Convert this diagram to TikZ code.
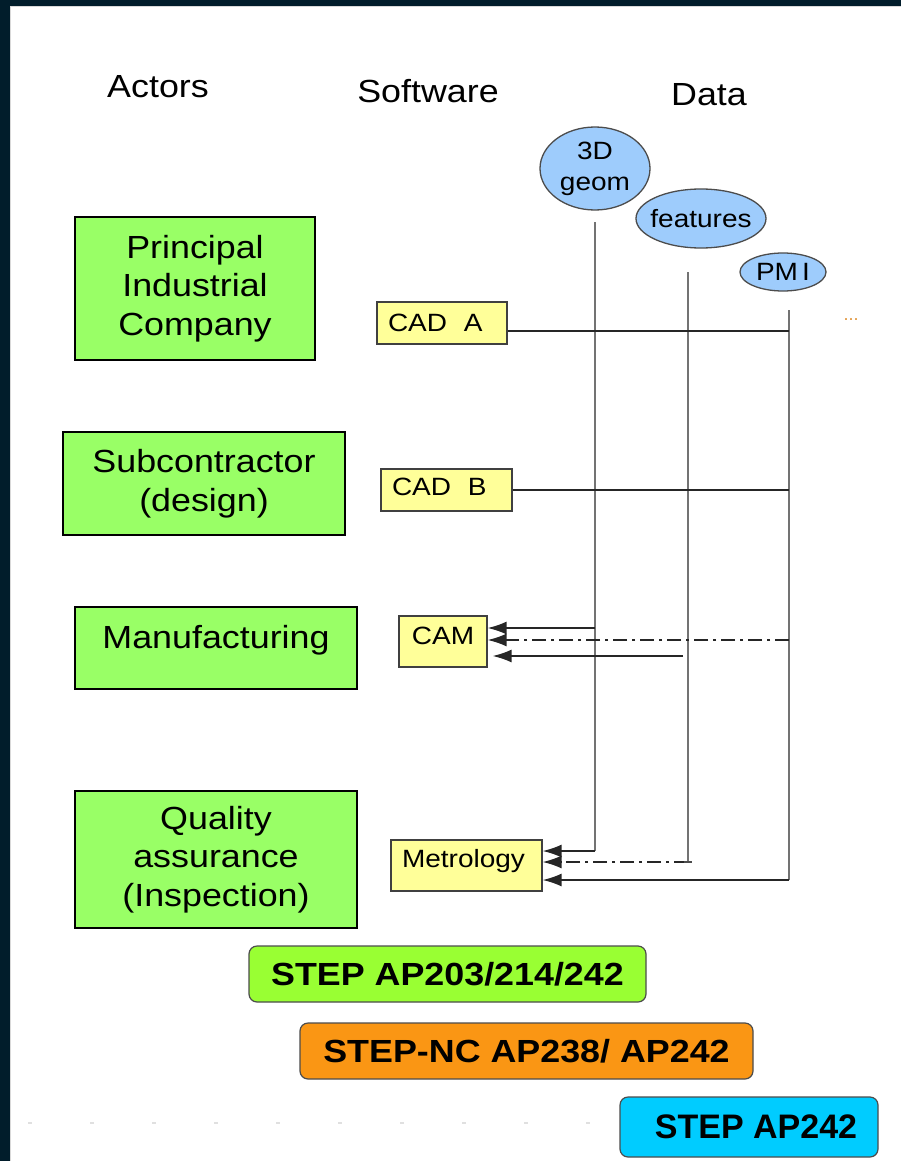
\documentclass[tikz,border=0pt]{standalone}
\usepackage{fontspec}
\setmainfont{Liberation Sans}
\newfontfamily\wide{Liberation Sans}[FakeStretch=1.12]
\usetikzlibrary{shapes.geometric,arrows.meta}
\definecolor{navy}{RGB}{1,29,43}
\definecolor{actgreen}{RGB}{153,255,102}
\definecolor{softyellow}{RGB}{255,255,153}
\definecolor{datablue}{RGB}{158,204,252}
\definecolor{stepgreen}{RGB}{153,255,51}
\definecolor{steporange}{RGB}{250,150,20}
\definecolor{stepcyan}{RGB}{0,204,255}
\definecolor{dots}{RGB}{225,150,60}
\tikzset{
 actor/.style={draw=black, line width=2.6pt, fill=actgreen, align=center, inner sep=0pt,
   font=\wide\fontsize{32}{38.5}\selectfont},
 soft/.style={draw=black!75, line width=1.3pt, fill=softyellow, inner xsep=11pt, inner ysep=0pt,
   font=\wide\fontsize{25}{30}\selectfont},
 data/.style={ellipse, draw=black!70, line width=1.3pt, fill=datablue, inner sep=0pt, align=center,
   font=\wide\fontsize{25}{31}\selectfont},
 std/.style={rounded corners=8pt, draw=black!70, line width=1.2pt, inner sep=0pt,
   font=\wide\bfseries\fontsize{32}{38}\selectfont},
 header/.style={font=\wide\fontsize{32}{38}\selectfont, inner sep=0pt},
 vline/.style={black!55, line width=2.2pt},
 hline/.style={black!85, line width=1.6pt},
 tip/.style={-{Latex[length=19pt,width=13pt]}},
 dashdot/.style={dash pattern=on 14pt off 5pt on 3pt off 5pt}
}
\begin{document}
\begin{tikzpicture}[x=1pt,y=-1pt]
\useasboundingbox (0,0) rectangle (901,1161);
\fill[navy] (0,0) rectangle (901,1161);
\fill[white] (10,6) rectangle (901,1161);
\draw[black!15, line width=1pt] (10.5,1161) -- (10.5,6.5) -- (901,6.5);
\draw[black!12, line width=1.2pt, dash pattern=on 4pt off 58pt] (28,1123) -- (615,1123);

% headers
\node[header] (hact) at (158,87) {Actors};
\node[header] (hsoft) at (428,91) {Software};
\node[header] (hdata) at (709,95) {Data};

% actors
\node[actor, minimum width=240, minimum height=143] (pic) at (195,288.5) {Principal\\Industrial\\Company};
\node[actor, minimum width=282, minimum height=103] (sub) at (204,483.5) {Subcontractor\\(design)};
\node[actor, minimum width=282, minimum height=82, text height=26pt, text depth=26pt] (man) at (216,648) {Manufacturing};
\node[actor, minimum width=282, minimum height=137] (qa) at (216,859.5) {Quality\\assurance\\(Inspection)};

% software
\node[soft, text width=108, align=left, minimum height=42] (cada) at (442,323) {CAD~~A};
\node[soft, text width=109, align=left, minimum height=42, text height=20pt, text depth=10pt] (cadb) at (446.5,490) {CAD~~B};
\node[soft, inner xsep=0pt, minimum width=88, minimum height=51, text height=18pt, text depth=13pt] (cam) at (443,641.5) {CAM};
\node[soft, text width=129, align=left, minimum height=51, text height=18pt, text depth=15pt] (met) at (466.5,865.5) {Metrology};

% data
\node[data, minimum width=110, minimum height=83] (geom) at (595,168.5) {3D\\geom};
\node[data, minimum width=130, minimum height=59] (feat) at (701,218.5) {\makebox[60pt]{features}};
\node[data, minimum width=86, minimum height=38] (pmi) at (783,272) {\makebox[40pt]{PM\,I}};
\node[font=\fontsize{18}{18}\selectfont, text=dots, inner sep=0pt] (more) at (851,320) {...};

% data lines
\coordinate (g0) at (595,222);
\coordinate (g1) at (595,851);
\coordinate (f0) at (688,272);
\coordinate (f1) at (688,862);
\coordinate (p0) at (789,310);
\coordinate (p1) at (789,880);
\draw[vline] (g0) -- (g1);
\draw[vline] (f0) -- (f1);
\draw[vline] (p0) -- (p1);

% CAD connections
\coordinate (pa) at (789,331);
\coordinate (pb) at (789,490);
\draw[hline] (cada.east |- pa) -- (pa);
\draw[hline] (cadb.east |- pb) -- (pb);

% CAM arrows
\coordinate (gc) at (595,628);
\coordinate (pc) at (789,640);
\coordinate (fc) at (683,656);
\draw[hline, tip] (gc) -- (cam.east |- gc);
\draw[hline, tip, dashdot] (pc) -- (cam.east |- pc);
\draw[hline, tip] (fc) -- ([xshift=5pt]cam.east |- fc);

% Metrology arrows
\draw[hline, tip] (g1) -- (met.east |- g1);
\draw[hline, tip, dashdot] (f1) -- (met.east |- f1);
\draw[hline, black!70] ([xshift=-4pt]f1) -- ([xshift=4pt]f1);
\draw[hline, tip] (p1) -- (met.east |- p1);

% standards
\node[std, fill=stepgreen, minimum width=397, minimum height=56] (s1) at (447.5,974) {STEP AP203/214/242};
\node[std, fill=steporange, minimum width=453, minimum height=56] (s2) at (526.5,1051) {STEP-NC AP238/ AP242};
\node[std, fill=stepcyan, minimum width=258, minimum height=60, font=\bfseries\fontsize{34}{38}\selectfont] (s3) at (749,1127) {\hspace{14pt}STEP AP242};
\end{tikzpicture}
\end{document}
